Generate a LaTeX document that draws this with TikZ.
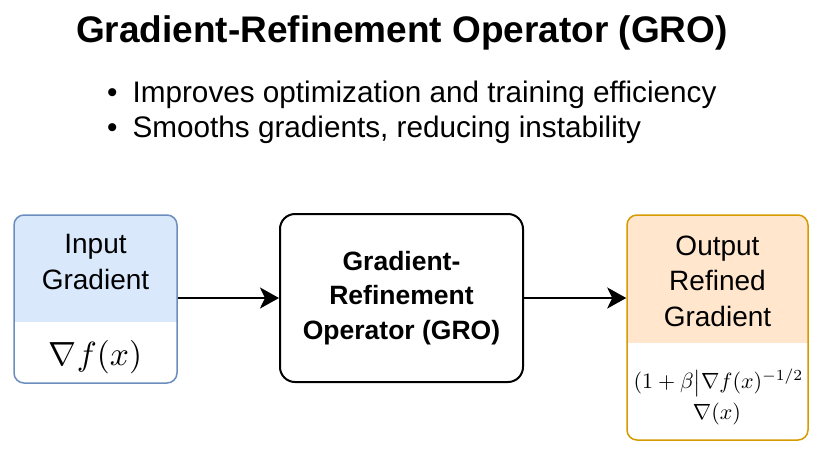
\documentclass[tikz,border=0pt]{standalone}
\usepackage{graphicx}
\usepackage{fontspec}
\setmainfont{Liberation Sans}
\usetikzlibrary{arrows.meta}
\definecolor{bluefill}{HTML}{DAE8FC}
\definecolor{blueline}{HTML}{6C8EBF}
\definecolor{orangefill}{HTML}{FFE6CC}
\definecolor{orangeline}{HTML}{D79B00}
\tikzset{
  splitbox/.style n args={3}{draw=#1, line width=1.5pt, rounded corners=10pt, fill=white,
    path picture={\fill[#2, sharp corners] (path picture bounding box.north west) rectangle
      ([yshift=-#3]path picture bounding box.north east);}},
  grobox/.style={draw=black, line width=2pt, rounded corners=15pt, fill=white},
  boxtext/.style={align=center, font=\fontsize{28}{35.5}\selectfont},
  grotext/.style={align=center, font=\fontsize{26.5}{34.5}\selectfont\bfseries},
  flow/.style={line width=2.5pt, -{Stealth[length=19pt,width=21pt,inset=5pt]}},
  bullettext/.style={anchor=west, inner sep=0pt, font=\fontsize{29.7}{34}\selectfont},
  mathtext/.style={inner sep=0pt},
}
\begin{document}
\begin{tikzpicture}[x=1pt,y=-1pt]
\useasboundingbox[fill=white] (0,0) rectangle (823,451);

\node[font=\fontsize{37}{42}\selectfont\bfseries] (title) at (402,33) {Gradient-Refinement Operator (GRO)};
\node[bullettext] (b1) at (107,95) {•\hspace{15pt}Improves optimization and training efficiency};
\node[bullettext] (b2) at (107,130) {•\hspace{15pt}Smooths gradients, reducing instability};

\node[splitbox={blueline}{bluefill}{107pt}, minimum width=163pt, minimum height=168pt] (input) at (95.5,299) {};
\node[grobox, minimum width=243pt, minimum height=168pt] (gro) at (401.5,298) {};
\node[splitbox={orangeline}{orangefill}{128pt}, minimum width=181pt, minimum height=225pt] (output) at (717.5,327.5) {};

\node[boxtext] (inlabel) at (95.5,262) {Input\\Gradient};
\node[mathtext] (inmath) at (95.5,357) {\scalebox{3.35}{$\nabla f(x)$}};
\node[grotext] (grolabel) at (401.5,298) {Gradient-\\Refinement\\Operator (GRO)};
\node[boxtext] (outlabel) at (717.5,281) {Output\\Refined\\Gradient};
\node[mathtext] (outmath) at (718.5,383) {\scalebox{2.2}{$(1+\beta\big|\nabla f(x)^{-1/2}$}};
\node[mathtext] (outmath2) at (717,414) {\scalebox{2.2}{$\nabla(x)$}};

\draw[flow] (input.east |- gro.west) -- (gro.west);
\draw[flow] (gro.east) -- (gro.east -| output.west);
\end{tikzpicture}
\end{document}
